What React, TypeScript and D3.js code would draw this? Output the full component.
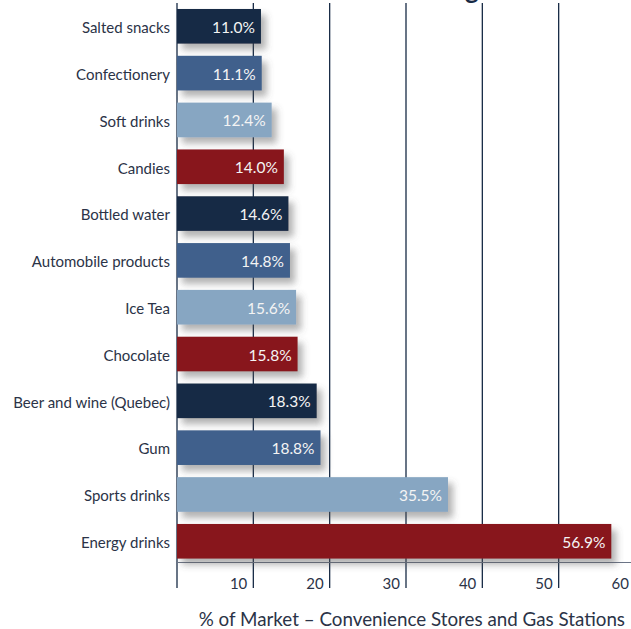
import React from "react";
import * as d3 from "d3";

const categories = [
  "Salted snacks",
  "Confectionery",
  "Soft drinks",
  "Candies",
  "Bottled water",
  "Automobile products",
  "Ice Tea",
  "Chocolate",
  "Beer and wine (Quebec)",
  "Gum",
  "Sports drinks",
  "Energy drinks",
];
const values = [11.0, 11.1, 12.4, 14.0, 14.6, 14.8, 15.6, 15.8, 18.3, 18.8, 35.5, 56.9];
const palette = ["#172a45", "#41618c", "#87a6c2", "#88191c"];
const tickValues = [10, 20, 30, 40, 50, 60];
const axisTitle = "% of Market \u2013 Convenience Stores and Gas Stations";

const W = 631;
const H = 629;
const FONT = "Lato, 'Open Sans', sans-serif";
const TEXT = "#2b3347";

export default function App() {
  const x = d3.scaleLinear().domain([0, 60]).range([177, 635]);
  const y = d3
    .scaleBand<string>()
    .domain(categories)
    .range([2.9, 564.7])
    .paddingInner(0.26)
    .paddingOuter(0.13);
  const bw = y.bandwidth();
  const gridTop = 3;
  const gridBottom = 588;

  return (
    <svg
      width={W}
      height={H}
      style={{ position: "absolute", left: 0, top: 0, background: "#fff" }}
    >
      <defs>
        <filter id="shadow" x="-10%" y="-30%" width="130%" height="180%">
          <feDropShadow dx="5" dy="6" stdDeviation="3.5" floodColor="#555" floodOpacity="0.45" />
        </filter>
      </defs>
      <text x={465} y={-1} fontFamily={FONT} fontWeight={700} fontSize={26} fill="#172a45">
        g
      </text>
      {tickValues.map((t) => (
        <line
          key={"g" + t}
          x1={x(t)}
          x2={x(t)}
          y1={gridTop}
          y2={gridBottom}
          stroke="#172a45"
          strokeWidth={1.3}
        />
      ))}
      <line x1={x(0)} x2={x(0)} y1={gridTop} y2={gridBottom} stroke="#172a45" strokeWidth={1.3} />
      <line x1={x(0)} x2={W} y1={562.5} y2={562.5} stroke="#6b7486" strokeWidth={1} />
      {categories.map((c, i) => (
        <rect
          key={c}
          x={x(0)}
          y={y(c)}
          width={x(values[i]) - x(0)}
          height={bw}
          fill={palette[i % 4]}
          filter="url(#shadow)"
        />
      ))}
      {categories.map((c, i) => (
        <text
          key={"v" + c}
          x={x(values[i]) - 6}
          y={(y(c) as number) + bw / 2}
          dy="0.42em"
          textAnchor="end"
          fontFamily={FONT}
          fontSize={15.5}
          fill="#f4f4f4"
        >
          {values[i].toFixed(1) + "%"}
        </text>
      ))}
      {categories.map((c) => (
        <text
          key={"c" + c}
          x={170}
          y={(y(c) as number) + bw / 2}
          dy="0.45em"
          textAnchor="end"
          fontFamily={FONT}
          fontSize={15}
          fill={TEXT}
        >
          {c}
        </text>
      ))}
      {tickValues.map((t) => (
        <text
          key={"t" + t}
          x={x(t) - 6}
          y={589}
          textAnchor="end"
          fontFamily={FONT}
          fontSize={15}
          fill={TEXT}
        >
          {t}
        </text>
      ))}
      <text
        x={625}
        y={626}
        textAnchor="end"
        fontFamily={FONT}
        fontSize={18.8}
        fill={TEXT}
      >
        {axisTitle}
      </text>
    </svg>
  );
}
